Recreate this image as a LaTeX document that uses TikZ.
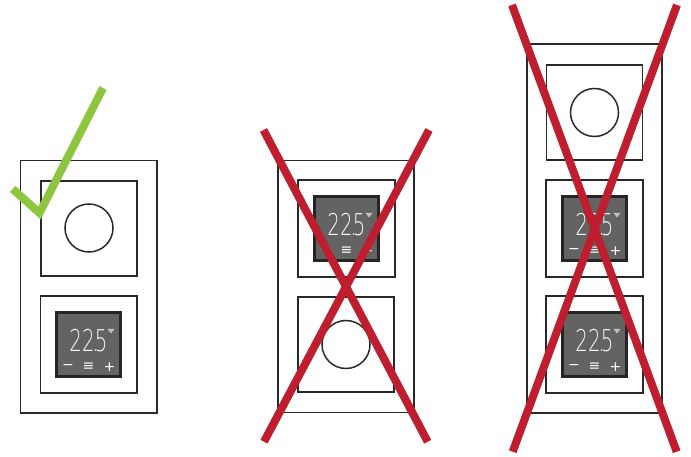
\documentclass[tikz,border=0pt]{standalone}
\usepackage{fontspec}
\setmainfont{DejaVu Sans}
\newfontfamily\lightdigits{DejaVu Sans ExtraLight}
\definecolor{frameink}{HTML}{2B2829}
\definecolor{facegray}{HTML}{636363}
\definecolor{tickgreen}{HTML}{8CC63F}
\definecolor{crossred}{HTML}{BE1E2D}
\tikzset{
  plate/.style={draw=frameink,line width=1.6pt,fill=none},
  dial/.style={draw=frameink,line width=1.5pt,circle,minimum size=48pt,inner sep=0pt},
  screen/.style={draw=frameink!90!black,line width=3.2pt,fill=facegray,minimum size=63.5pt,inner sep=0pt},
  readout/.style={text=white!92!gray,font=\lightdigits\fontsize{30}{30}\selectfont,inner sep=0pt,xscale=.66},
  softkey/.style={text=white,font=\fontsize{14}{14}\selectfont,inner sep=0pt},
  tick/.style={draw=tickgreen,line width=8pt,miter limit=10},
  slash/.style={draw=crossred,line width=8pt},
  thermo/.pic={
    \node[screen] (-face) at (0,0) {};
    \node[readout] (-temp) at (0,-3.6) {22\kern-.12em.\kern-.18em5};
    \fill[gray!50!white] (19,-15.6) -- (26,-15.6) -- (22.5,-11) -- cycle;
    \node[softkey] (-minus) at (-20.5,22.3) {−};
    \node[softkey] (-menu) at (0,22.3) {≡};
    \node[softkey] (-plus) at (21,22.3) {+};
  }
}
\begin{document}
\begin{tikzpicture}[x=1pt,y=-1pt]
\useasboundingbox (0,0) rectangle (691,457);
% left unit
\draw[plate] (20.5,160.5) rectangle (157,413);
\draw[plate] (41,181) rectangle (137,276);
\draw[plate] (40.5,296) rectangle (137,393);
\node[dial] (dialA) at (89,228) {};
\pic (thermoA) at (88.5,344.5) {thermo};
% middle unit
\draw[plate] (278,160.5) rectangle (414,412.5);
\draw[plate] (298,180) rectangle (395,277);
\draw[plate] (298,297) rectangle (394,392);
\node[dial] (dialB) at (346,344.5) {};
\pic (thermoB) at (346.5,228.5) {thermo};
% right unit
\draw[plate] (527,44) rectangle (662,413);
\draw[plate] (546.5,65) rectangle (642.5,160);
\draw[plate] (546,180) rectangle (643,277);
\draw[plate] (546,296) rectangle (643,393);
\node[dial] (dialC) at (594.5,112.5) {};
\pic (thermoC) at (594.5,228.5) {thermo};
\pic (thermoD) at (594.5,344.5) {thermo};
% marks
\coordinate (tickL) at (12.7,189);
\coordinate (tickV) at (39.5,213);
\coordinate (tickT) at (103,88);
\draw[tick] (tickL) -- (tickV) -- (tickT);
\coordinate (bTL) at (263.5,130);
\coordinate (bTR) at (429,130);
\coordinate (bBL) at (264,441.7);
\coordinate (bBR) at (427.7,441.7);
\draw[slash] (bTL) -- (bBR);
\draw[slash] (bTR) -- (bBL);
\coordinate (cTL) at (512,5);
\coordinate (cTR) at (677,5);
\coordinate (cBL) at (512.7,451.7);
\coordinate (cBR) at (676.7,451.7);
\draw[slash] (cTL) -- (cBR);
\draw[slash] (cTR) -- (cBL);
\end{tikzpicture}
\end{document}
